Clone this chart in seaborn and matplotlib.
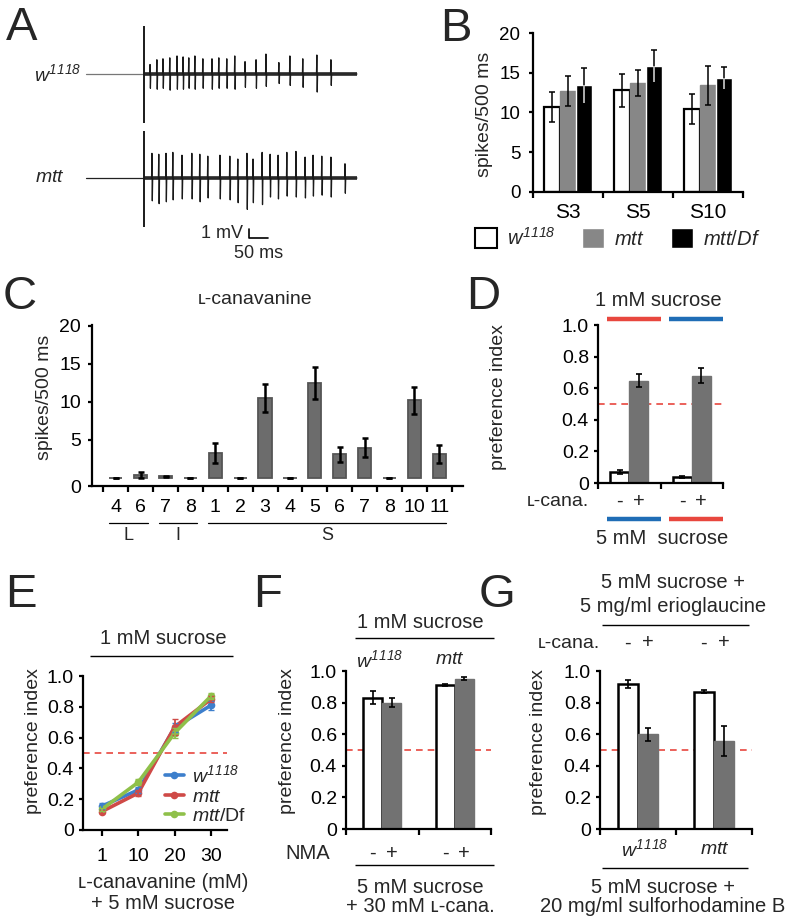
import numpy as np
import pandas as pd
import seaborn as sns
import matplotlib.pyplot as plt
from matplotlib.lines import Line2D
from matplotlib.patches import Patch
from matplotlib.transforms import blended_transform_factory

W, H = 800, 921

# ---------------- data ----------------
# A: spike times (ms after stimulus onset) and amplitudes (mV)
w_spk_t = [16, 34, 50, 68, 87, 103, 118, 134, 155, 179, 197, 218, 239, 266, 295, 321, 355, 384, 418, 455, 492]
w_spk_up = [1.0, 1.5, 1.6, 1.7, 1.9, 1.8, 1.7, 1.9, 1.6, 1.6, 1.7, 1.6, 1.9, 1.3, 1.5, 2.1, 1.2, 1.9, 1.6, 2.0, 1.5]
w_spk_dn = [1.5, 1.6, 1.5, 1.7, 1.6, 1.6, 1.5, 1.6, 1.5, 1.6, 1.5, 1.5, 1.6, 1.4, 1.5, 1.3, 1.0, 1.2, 1.4, 1.9, 1.2]
m_spk_t = [21, 39, 58, 76, 100, 126, 147, 168, 200, 226, 247, 271, 287, 311, 332, 353, 376, 400, 424, 445, 468, 492, 529]
m_spk_up = [2.6, 2.5, 2.6, 2.7, 2.4, 2.6, 2.5, 2.3, 2.4, 2.3, 2.0, 2.6, 2.0, 2.7, 2.5, 2.4, 2.7, 2.8, 2.2, 2.4, 2.3, 2.2, 1.5]
m_spk_dn = [2.4, 2.7, 2.5, 2.3, 2.2, 2.2, 2.5, 2.1, 2.2, 2.3, 2.6, 3.3, 2.6, 2.8, 2.0, 2.2, 1.9, 2.0, 2.1, 1.9, 1.8, 2.0, 1.6]

# B
b_sens = ['S3', 'S5', 'S10']
b_w = [10.7, 12.8, 10.4]
b_w_err = [1.9, 2.1, 1.9]
b_mtt = [12.7, 13.7, 13.4]
b_mtt_err = [1.9, 1.6, 2.5]
b_df = [13.4, 15.8, 14.3]
b_df_err = [2.2, 2.0, 1.4]

# C
c_keys = ['L4', 'L6', 'I7', 'I8', 'S1', 'S2', 'S3', 'S4', 'S5', 'S6', 'S7', 'S8', 'S10', 'S11']
c_ticks = ['4', '6', '7', '8', '1', '2', '3', '4', '5', '6', '7', '8', '10', '11']
c_vals = [0, 0.4, 0.2, 0, 3.3, 0, 10.5, 0, 12.5, 3.1, 4.0, 0, 10.2, 3.2]
c_err = [0, 0.4, 0.1, 0, 1.3, 0, 1.8, 0, 2.1, 1.0, 1.3, 0, 1.8, 1.2]

# D
d_minus = [0.07, 0.04]
d_minus_err = [0.012, 0.007]
d_plus = [0.648, 0.678]
d_plus_err = [0.042, 0.048]

# E
e_conc = ['1', '10', '20', '30']
e_w = [0.155, 0.26, 0.665, 0.81]
e_w_err = [0.02, 0.02, 0.03, 0.03]
e_mtt = [0.12, 0.24, 0.67, 0.85]
e_mtt_err = [0.01, 0.02, 0.05, 0.02]
e_df = [0.135, 0.31, 0.63, 0.87]
e_df_err = [0.01, 0.02, 0.03, 0.02]

# F
f_minus = [0.832, 0.914]
f_minus_err = [0.04, 0.006]
f_plus = [0.80, 0.95]
f_plus_err = [0.03, 0.01]

# G
g_minus = [0.92, 0.87]
g_minus_err = [0.025, 0.012]
g_plus = [0.60, 0.557]
g_plus_err = [0.04, 0.097]

W1118 = r'$\mathit{w}^{\mathsf{1118}}$'
MTT = r'$\mathit{mtt}$'

# ---------------- style ----------------
sns.set_style('ticks')
plt.rcParams['font.family'] = ['Liberation Sans', 'DejaVu Sans']
plt.rcParams['mathtext.fontset'] = 'custom'
plt.rcParams['mathtext.rm'] = 'Liberation Sans'
plt.rcParams['mathtext.it'] = 'Liberation Sans:italic'
plt.rcParams['mathtext.sf'] = 'Liberation Sans:italic'
plt.rcParams['axes.edgecolor'] = 'black'
plt.rcParams['xtick.color'] = 'black'
plt.rcParams['ytick.color'] = 'black'

fig = plt.figure(figsize=(W / 100, H / 100), dpi=100)

RED = '#e8473e'
BLUE = '#1f6db6'
GRAY = '#727272'
TXT = 14.5


def px_axes(x0, y0, x1, y1):
    return fig.add_axes([x0 / W, 1 - y1 / H, (x1 - x0) / W, (y1 - y0) / H])


def ftxt(x, y, s, size=TXT, **kw):
    kw.setdefault('ha', 'center')
    kw.setdefault('va', 'center')
    fig.text(x / W, 1 - y / H, s, fontsize=size, **kw)


def fline(x0, x1, y, color='black', lw=1.0):
    fig.add_artist(Line2D([x0 / W, x1 / W], [1 - y / H] * 2, transform=fig.transFigure,
                          color=color, lw=lw, solid_capstyle='butt'))


def style(ax, ylab, lab_xy, ysize=14, labsize=14, lw=1.6):
    sns.despine(ax=ax)
    for s in ['left', 'bottom']:
        ax.spines[s].set_linewidth(lw)
    ax.tick_params(axis='y', direction='out', length=3, width=lw, labelsize=ysize, pad=3.5)
    ax.set_xlabel('')
    ax.set_ylabel(ylab, fontsize=labsize)
    ax.yaxis.set_label_coords(*lab_xy)


def boundary_ticks(ax, n, lw=1.6, length=4):
    ax.set_xticks(np.arange(-0.5, n), minor=True)
    ax.tick_params(axis='x', which='minor', length=length, width=lw, direction='out')
    ax.tick_params(axis='x', which='major', length=0)


def add_err(ax, errs, color='black', lw=1.2, cap=2):
    for cont, e in zip(ax.containers, errs):
        xs = [p.get_x() + p.get_width() / 2 for p in cont]
        ys = [p.get_height() for p in cont]
        ax.errorbar(xs, ys, yerr=e, fmt='none', ecolor=color, elinewidth=lw, capsize=cap, capthick=lw)


def pm_bars(ax, minus, plus, minus_err, plus_err, width):
    df = pd.DataFrame({'grp': [0, 1, 0, 1], 'cond': ['-', '-', '+', '+'],
                       'pi': minus + plus})
    sns.barplot(data=df, x='grp', y='pi', hue='cond', hue_order=['-', '+'],
                palette=['white', GRAY], saturation=1, width=width, errorbar=None,
                legend=False, ax=ax)
    for p in ax.containers[0]:
        p.set_edgecolor('black')
        p.set_linewidth(1.8)
    for p in ax.containers[1]:
        p.set_edgecolor(GRAY)
    add_err(ax, [minus_err, plus_err])
    ax.axhline(0.5, color=RED, ls=(0, (4, 3)), lw=1.2, zorder=0.5)
    ax.set_ylim(0, 1.0)
    ax.set_yticks([0, 0.2, 0.4, 0.6, 0.8, 1.0], ['0', '0.2', '0.4', '0.6', '0.8', '1.0'])
    boundary_ticks(ax, 2)
    ax.set_xticklabels([])


def bar_signs(ax, y_px, size=TXT):
    # "-" / "+" under each bar, placed with the bars' own x positions
    for cont, s in zip(ax.containers, ['-', '+']):
        for p in cont:
            xd = p.get_x() + p.get_width() / 2
            xf = fig.transFigure.inverted().transform(ax.transData.transform((xd, 0)))[0]
            fig.text(xf, 1 - y_px / H, s, fontsize=size, ha='center', va='center')


# ---------------- A: recordings ----------------
axA = px_axes(80, 20, 365, 262)
axA.axis('off')
ms_per_px = 1 / 0.38
x_left = -153 - 6 * ms_per_px
axA.set_xlim(x_left, x_left + 285 * ms_per_px)
mv_top = 54 / 9.5
axA.set_ylim(mv_top - 242 / 9.5, mv_top)

t_end = 560
for base, ts, ups, dns, pre_c in [(0.0, w_spk_t, w_spk_up, w_spk_dn, '#777777'),
                                   (-10.95, m_spk_t, m_spk_up, m_spk_dn, '#222222')]:
    axA.plot([-153, 0], [base, base], color=pre_c, lw=0.9)
    axA.plot([0, t_end], [base, base], color='#444444', lw=2.8, solid_capstyle='butt')
    xs, ys = [0.0], [base]
    for t, u, d in zip(ts, ups, dns):
        xs += [t - 1.5, t - 0.5, t + 0.5, t + 1.5]
        ys += [base, base + u, base - d, base]
    xs.append(t_end)
    ys.append(base)
    axA.plot(xs, ys, color='#1a1a1a', lw=0.9)
    axA.vlines(0, base - 5.2, base + 5.0, color='#1a1a1a', lw=1.4)

sb_t, sb_v = 276, -17.3
axA.plot([sb_t, sb_t, sb_t + 50], [sb_v + 1, sb_v, sb_v], color='black', lw=1.2)
axA.text(sb_t - 16, sb_v + 0.5, '1 mV', fontsize=13, ha='right', va='center')
axA.text(sb_t + 26, sb_v - 1.6, '50 ms', fontsize=13, ha='center', va='center')
ftxt(58, 74, W1118, size=14)
ftxt(50, 178, MTT, size=14)

# ---------------- B ----------------
axB = px_axes(533, 33, 743, 192)
dfB = pd.DataFrame({'sens': b_sens * 3,
                    'geno': ['w'] * 3 + ['mtt'] * 3 + ['df'] * 3,
                    'val': b_w + b_mtt + b_df})
sns.barplot(data=dfB, x='sens', y='val', hue='geno', hue_order=['w', 'mtt', 'df'],
            palette=['white', '#878787', 'black'], saturation=1, width=0.69,
            errorbar=None, legend=False, ax=axB)
for p in axB.containers[0]:
    p.set_edgecolor('black')
    p.set_linewidth(1.6)
for p in axB.containers[1]:
    p.set_edgecolor('#878787')
add_err(axB, [b_w_err, b_mtt_err, b_df_err], lw=1.1)
# lower half of the error bar is light on the black bars
dfx = [p.get_x() + p.get_width() / 2 for p in axB.containers[2]]
axB.vlines(dfx, np.array(b_df) - np.array(b_df_err), b_df, color='#dddddd', lw=1.1, zorder=3)
axB.set_ylim(0, 20)
axB.set_yticks([0, 5, 10, 15, 20])
style(axB, 'spikes/500 ms', (-0.19, 0.49), ysize=13.5, labsize=14)
axB.tick_params(axis='y', pad=6)
boundary_ticks(axB, 3)
axB.tick_params(axis='x', which='major', labelsize=15, pad=8)
fig.legend(handles=[Patch(fc='white', ec='black', lw=1.5), Patch(fc='#878787'), Patch(fc='black')],
           labels=[W1118, MTT, r'$\mathit{mtt/Df}$'], loc='center',
           bbox_to_anchor=(618 / W, 1 - 238 / H), ncol=3, frameon=False, fontsize=14.5,
           handlelength=1.1, handleheight=1.1, columnspacing=1.3, handletextpad=0.5)

# ---------------- C ----------------
axC = px_axes(92, 325, 463, 486)
dfC = pd.DataFrame({'key': c_keys, 'val': c_vals})
sns.barplot(data=dfC, x='key', y='val', order=c_keys, color='#6c6c6c', saturation=1,
            width=0.53, errorbar=None, ax=axC)
for p in axC.patches:
    p.set_edgecolor('#555555')
    p.set_linewidth(1.3)
add_err(axC, [c_err], lw=1.8, cap=2)
axC.set_ylim(-1.05, 20.1)
axC.set_yticks([-1.05, 5, 10, 15, 20], ['0', '5', '10', '15', '20'])
style(axC, 'spikes/500 ms', (-0.105, 0.553), ysize=14, labsize=14)
axC.tick_params(axis='y', pad=5)
boundary_ticks(axC, len(c_keys))
axC.set_xticks(range(len(c_keys)), c_ticks)
axC.tick_params(axis='x', which='major', labelsize=14, pad=9)
tr = blended_transform_factory(axC.transData, axC.transAxes)
for name, i0, i1 in [('L', 0, 1), ('I', 2, 3), ('S', 4, 13)]:
    axC.plot([i0 - 0.28, i1 + 0.28], [-0.23, -0.23], color='black', lw=0.9,
             transform=tr, clip_on=False)
    axC.text((i0 + i1) / 2, -0.31, name, transform=tr, fontsize=13, ha='center', va='center')
ftxt(255, 300, 'ʟ-canavanine', size=14)

# ---------------- D ----------------
axD = px_axes(598, 325, 723, 483)
pm_bars(axD, d_minus, d_plus, d_minus_err, d_plus_err, width=0.61)
style(axD, 'preference index', (-0.728, 0.544))
ftxt(658, 301, '1 mM sucrose')
fline(607, 661, 319, RED, 3.2)
fline(669, 723, 319, BLUE, 3.2)
ftxt(558, 501, 'ʟ-cana.', size=14)
bar_signs(axD, 501)
fline(607, 661, 519, BLUE, 3.2)
fline(669, 723, 519, RED, 3.2)
ftxt(662, 538, '5 mM  sucrose')

# ---------------- E ----------------
axE = px_axes(83, 676, 227, 830)
e_labels = [W1118, MTT, r'$\mathit{mtt}\mathrm{/Df}$']
e_colors = ['#3d7fcc', '#cf4a47', '#8fc04a']
dfE = pd.DataFrame({'pos': list(range(4)) * 3,
                    'pi': e_w + e_mtt + e_df,
                    'geno': [e_labels[0]] * 4 + [e_labels[1]] * 4 + [e_labels[2]] * 4})
axE.axhline(0.5, color=RED, ls=(0, (4, 3)), lw=1.2, zorder=0.5)
sns.lineplot(data=dfE, x='pos', y='pi', hue='geno', hue_order=e_labels, palette=e_colors,
             marker='o', markersize=5.5, markeredgewidth=0, lw=2.6, ax=axE)
for vals, errs, c in zip([e_w, e_mtt, e_df], [e_w_err, e_mtt_err, e_df_err], e_colors):
    axE.errorbar(range(4), vals, yerr=errs, fmt='none', ecolor=c, elinewidth=1.3, capsize=2)
hs, ls = axE.get_legend_handles_labels()
axE.legend(hs, ls, loc='upper left', bbox_to_anchor=(0.50, 0.49), frameon=False, fontsize=14,
           handlelength=1.0, handletextpad=0.4, labelspacing=0.1, borderpad=0)
axE.set_xlim(-0.52, 3.44)
axE.set_ylim(0, 1.0)
axE.set_yticks([0, 0.2, 0.4, 0.6, 0.8, 1.0], ['0', '0.2', '0.4', '0.6', '0.8', '1.0'])
style(axE, 'preference index', (-0.285, 0.578))
axE.set_xticks(range(4), e_conc)
axE.tick_params(axis='x', length=4, width=1.6, labelsize=14, pad=9)
ftxt(163, 638, '1 mM sucrose')
fline(90, 233, 656)
ftxt(163, 882, 'ʟ-canavanine (mM)')
ftxt(163, 903, '+ 5 mM sucrose')

# ---------------- F ----------------
axF = px_axes(346, 671, 491, 829)
pm_bars(axF, f_minus, f_plus, f_minus_err, f_plus_err, width=0.52)
style(axF, 'preference index', (-0.345, 0.557))
ftxt(420, 622, '1 mM sucrose')
fline(355, 494, 638)
ftxt(380, 660, W1118, size=14)
ftxt(450, 660, MTT, size=14)
ftxt(308, 853, 'NMA')
bar_signs(axF, 853)
fline(355, 494, 865)
ftxt(420, 887, '5 mM sucrose')
ftxt(420, 906, '+ 30 mM ʟ-cana.')

# ---------------- G ----------------
axG = px_axes(600, 671, 752, 829)
pm_bars(axG, g_minus, g_plus, g_minus_err, g_plus_err, width=0.53)
style(axG, 'preference index', (-0.35, 0.55))
ftxt(673, 583, '5 mM sucrose +')
ftxt(673, 607, '5 mg/ml erioglaucine')
fline(602, 749, 625)
ftxt(569, 643, 'ʟ-cana.', size=14)
bar_signs(axG, 643)
ftxt(645, 849, W1118, size=14)
ftxt(715, 849, MTT, size=14)
fline(602, 748, 868)
ftxt(663, 887, '5 mM sucrose +')
ftxt(663, 906, '20 mg/ml sulforhodamine B')

# ---------------- panel letters ----------------
for letter, x, y in [('A', 22, 28), ('B', 456, 29), ('C', 20, 297), ('D', 483, 297),
                     ('E', 21, 595), ('F', 268, 595), ('G', 497, 595)]:
    ftxt(x, y, letter, size=34)

fig.savefig('out.png', dpi=100)
